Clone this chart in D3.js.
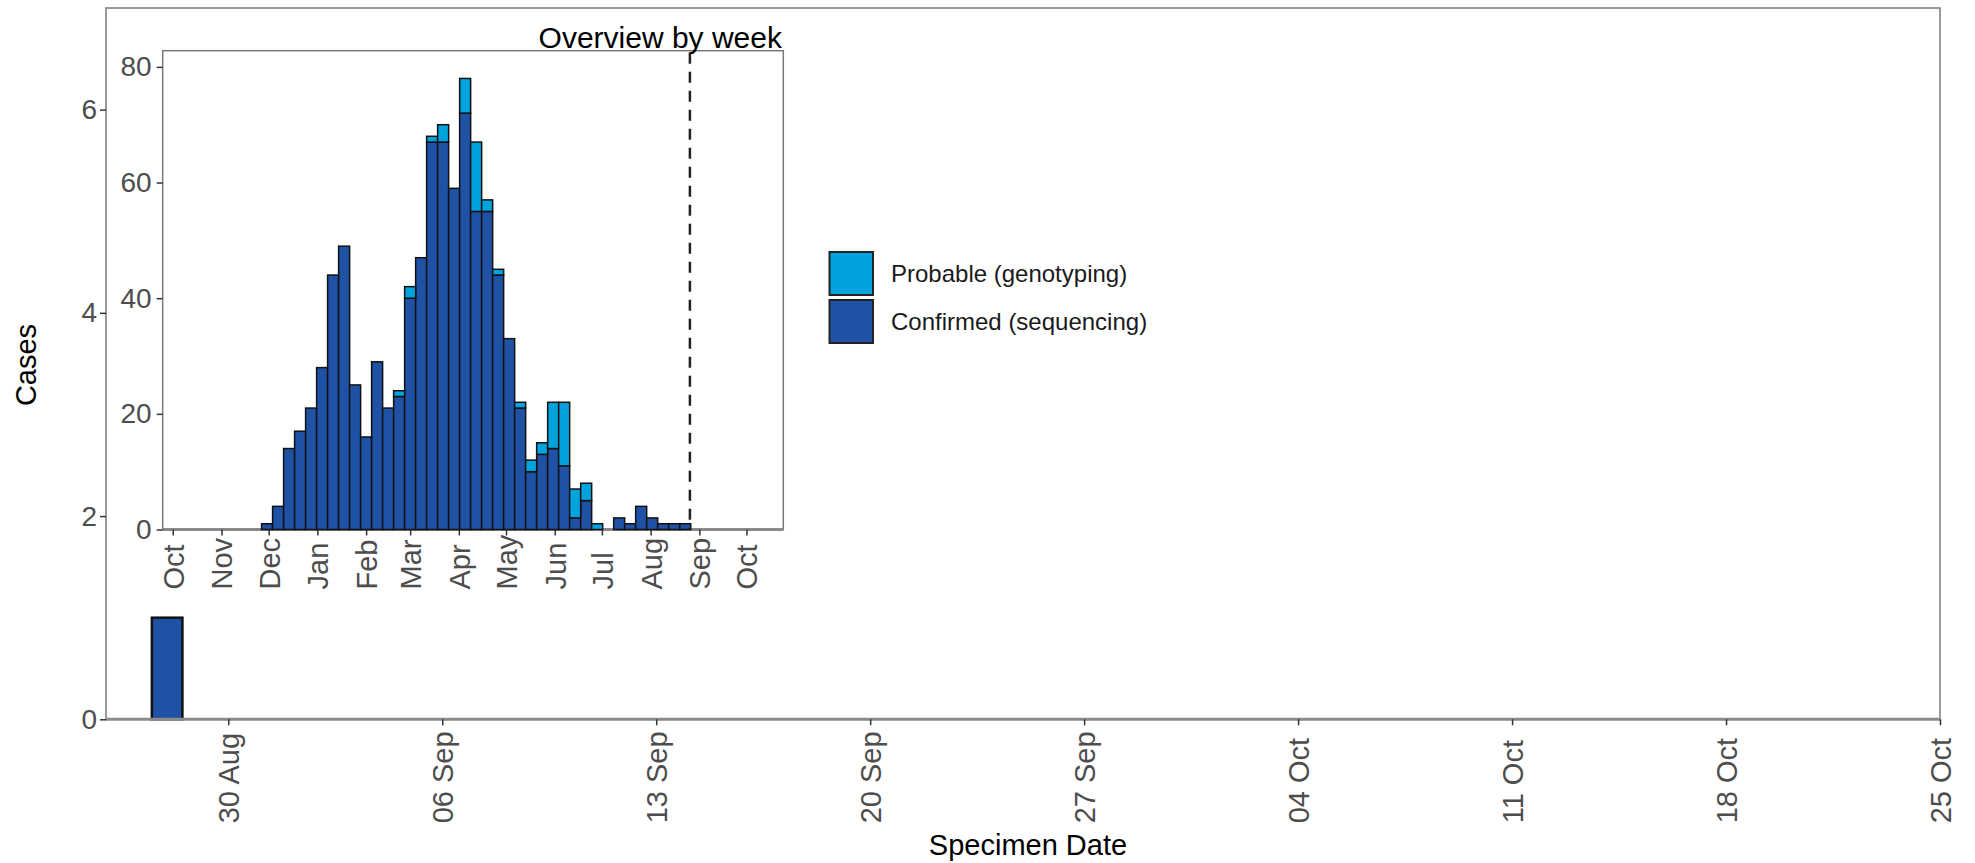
<!DOCTYPE html>
<html>
<head>
<meta charset="utf-8">
<script src="https://cdn.jsdelivr.net/npm/d3@7"></script>
<style>
  body { margin: 0; background: #fff; }
  svg text { font-family: "Liberation Sans", Arial, sans-serif; }
</style>
</head>
<body>
<div id="chart"></div>
<script>
// Daily counts (main panel)
const dailyDates = ["2021-08-28"];
const dailyConfirmed = [1];
const dailyProbable = [0];
const dailyTicks = ["2021-08-30", "2021-09-06", "2021-09-13", "2021-09-20", "2021-09-27",
  "2021-10-04", "2021-10-11", "2021-10-18", "2021-10-25"];
const dailyYTicks = [0, 2, 4, 6];

// Weekly counts (inset "Overview by week")
const weekStarts = [
  "2020-11-30", "2020-12-07", "2020-12-14", "2020-12-21", "2020-12-28",
  "2021-01-04", "2021-01-11", "2021-01-18", "2021-01-25", "2021-02-01",
  "2021-02-08", "2021-02-15", "2021-02-22", "2021-03-01", "2021-03-08",
  "2021-03-15", "2021-03-22", "2021-03-29", "2021-04-05", "2021-04-12",
  "2021-04-19", "2021-04-26", "2021-05-03", "2021-05-10", "2021-05-17",
  "2021-05-24", "2021-05-31", "2021-06-07", "2021-06-14", "2021-06-21",
  "2021-06-28", "2021-07-05", "2021-07-12", "2021-07-19", "2021-07-26",
  "2021-08-02", "2021-08-09", "2021-08-16", "2021-08-23"];
const weeklyConfirmed = [1, 4, 14, 17, 21, 28, 44, 49, 25, 16, 29, 21, 23, 40, 47,
  67, 67, 59, 72, 55, 55, 44, 33, 21, 10, 13, 14, 11, 2, 5, 0, 0, 2, 1, 4, 2, 1, 1, 1];
const weeklyProbable = [0, 0, 0, 0, 0, 0, 0, 0, 0, 0, 0, 0, 1, 2, 0,
  1, 3, 0, 6, 12, 2, 1, 0, 1, 2, 2, 8, 11, 5, 3, 1, 0, 0, 0, 0, 0, 0, 0, 0];
const monthTicks = ["2020-10-01", "2020-11-01", "2020-12-01", "2021-01-01", "2021-02-01",
  "2021-03-01", "2021-04-01", "2021-05-01", "2021-06-01", "2021-07-01", "2021-08-01",
  "2021-09-01", "2021-10-01"];
const weeklyYTicks = [0, 20, 40, 60, 80];
const cutoffDate = "2021-08-26";

const seriesNames = ["Probable (genotyping)", "Confirmed (sequencing)"];
const seriesColors = ["#00a3de", "#1f52a5"];

const parse = d3.utcParse("%Y-%m-%d");
const width = 1975;
const height = 863;

const svg = d3.select("#chart").append("svg")
  .attr("width", width)
  .attr("height", height);

// Build stacked segments: confirmed at the bottom, probable on top
const stackRows = (dates, confirmed, probable) => {
  const rows = dates.map((d, i) => ({ date: parse(d), confirmed: confirmed[i], probable: probable[i] }));
  const stacked = d3.stack().keys(["confirmed", "probable"])(rows);
  const segs = [];
  stacked.forEach((layer) => {
    layer.forEach((s) => {
      if (s[1] > s[0]) segs.push({ key: layer.key, date: s.data.date, y0: s[0], y1: s[1] });
    });
  });
  return segs;
};
const colorOf = (key) => (key === "confirmed" ? seriesColors[1] : seriesColors[0]);

const styleAxis = (g, size) => {
  g.select(".domain").remove();
  g.selectAll(".tick line").attr("stroke", "#333").attr("stroke-width", 1.5);
  g.selectAll(".tick text")
    .attr("fill", "#4d4d4d")
    .style("font-size", size + "px");
};

// ---------- main panel ----------
const main = { left: 106, right: 1940, top: 8, bottom: 719.3 };

const x = d3.scaleUtc()
  .domain([parse("2021-08-26"), parse("2021-10-25")])
  .range([main.left, main.right]);
const y = d3.scaleLinear().domain([0, 7]).range([main.bottom, main.top]);

svg.append("rect")
  .attr("x", main.left).attr("y", main.top)
  .attr("width", main.right - main.left).attr("height", main.bottom - main.top)
  .attr("fill", "none").attr("stroke", "#7a7a7a").attr("stroke-width", 1.5);

svg.append("g")
  .selectAll("rect")
  .data(stackRows(dailyDates, dailyConfirmed, dailyProbable))
  .join("rect")
  .attr("x", (d) => x(d3.utcHour.offset(d.date, -12)))
  .attr("width", (d) => x(d3.utcHour.offset(d.date, 12)) - x(d3.utcHour.offset(d.date, -12)))
  .attr("y", (d) => y(d.y1))
  .attr("height", (d) => y(d.y0) - y(d.y1))
  .attr("fill", (d) => colorOf(d.key))
  .attr("stroke", "#111")
  .attr("stroke-width", 2.5);

svg.append("line")
  .attr("x1", main.left).attr("x2", main.right)
  .attr("y1", main.bottom).attr("y2", main.bottom)
  .attr("stroke", "#8a8a8a").attr("stroke-width", 3);

const xAxis = svg.append("g")
  .attr("transform", `translate(0, ${main.bottom})`)
  .call(d3.axisBottom(x)
    .tickValues(dailyTicks.map(parse))
    .tickFormat(d3.utcFormat("%d %b"))
    .tickSize(6));
styleAxis(xAxis, 29);
xAxis.selectAll(".tick text")
  .attr("transform", "rotate(-90)")
  .attr("text-anchor", "start")
  .attr("x", -104)
  .attr("y", 0)
  .attr("dy", "0.36em");

const yAxis = svg.append("g")
  .attr("transform", `translate(${main.left}, 0)`)
  .call(d3.axisLeft(y).tickValues(dailyYTicks).tickFormat(d3.format("d")).tickSize(6).tickPadding(3));
styleAxis(yAxis, 28);

svg.append("text")
  .attr("transform", "translate(36, 365) rotate(-90)")
  .attr("text-anchor", "middle")
  .style("font-size", "29px")
  .attr("fill", "#000")
  .text("Cases");

svg.append("text")
  .attr("x", 1028).attr("y", 855)
  .attr("text-anchor", "middle")
  .style("font-size", "29px")
  .attr("fill", "#000")
  .text("Specimen Date");

// ---------- inset: overview by week ----------
const inset = { left: 162.7, right: 783.3, top: 50.7, bottom: 529.5 };

const xi = d3.scaleUtc()
  .domain([new Date(Date.UTC(2020, 8, 24, 14)), new Date(Date.UTC(2021, 9, 24, 10))])
  .range([inset.left, inset.right]);
const yi = d3.scaleLinear().domain([0, 82.8]).range([inset.bottom, inset.top]);

svg.append("rect")
  .attr("x", inset.left).attr("y", inset.top)
  .attr("width", inset.right - inset.left).attr("height", inset.bottom - inset.top)
  .attr("fill", "#fff").attr("stroke", "#7a7a7a").attr("stroke-width", 1.5);

svg.append("line")
  .attr("x1", inset.left).attr("x2", inset.right)
  .attr("y1", inset.bottom).attr("y2", inset.bottom)
  .attr("stroke", "#8a8a8a").attr("stroke-width", 3);

svg.append("g")
  .selectAll("rect")
  .data(stackRows(weekStarts, weeklyConfirmed, weeklyProbable))
  .join("rect")
  .attr("x", (d) => xi(d3.utcHour.offset(d.date, -84)))
  .attr("width", (d) => xi(d3.utcHour.offset(d.date, 84)) - xi(d3.utcHour.offset(d.date, -84)))
  .attr("y", (d) => yi(d.y1))
  .attr("height", (d) => yi(d.y0) - yi(d.y1))
  .attr("fill", (d) => colorOf(d.key))
  .attr("stroke", "#111")
  .attr("stroke-width", 1.5);

svg.append("line")
  .attr("x1", xi(parse(cutoffDate))).attr("x2", xi(parse(cutoffDate)))
  .attr("y1", inset.top + 2).attr("y2", inset.bottom)
  .attr("stroke", "#222").attr("stroke-width", 2.5)
  .attr("stroke-dasharray", "11,8");

const xiAxis = svg.append("g")
  .attr("transform", `translate(0, ${inset.bottom})`)
  .call(d3.axisBottom(xi)
    .tickValues(monthTicks.map(parse))
    .tickFormat(d3.utcFormat("%b"))
    .tickSize(6));
styleAxis(xiAxis, 29);
xiAxis.selectAll(".tick text")
  .attr("transform", "rotate(-90)")
  .attr("text-anchor", "start")
  .attr("x", -60)
  .attr("y", 0)
  .attr("dy", "0.36em");

const yiAxis = svg.append("g")
  .attr("transform", `translate(${inset.left}, 0)`)
  .call(d3.axisLeft(yi).tickValues(weeklyYTicks).tickFormat(d3.format("d")).tickSize(6).tickPadding(5));
styleAxis(yiAxis, 28);

svg.append("text")
  .attr("x", 782).attr("y", 48)
  .attr("text-anchor", "end")
  .style("font-size", "30px")
  .attr("fill", "#000")
  .text("Overview by week");

// ---------- legend ----------
const legend = svg.append("g").attr("transform", "translate(829.5, 252)");
const legendItems = legend.selectAll("g")
  .data(seriesNames)
  .join("g")
  .attr("transform", (d, i) => `translate(0, ${i * 48})`);
legendItems.append("rect")
  .attr("width", 43.5).attr("height", 43)
  .attr("fill", (d, i) => seriesColors[i])
  .attr("stroke", "#222").attr("stroke-width", 2);
legendItems.append("text")
  .attr("x", 61.5).attr("y", 30)
  .style("font-size", "24px")
  .attr("fill", "#1a1a1a")
  .text((d) => d);
</script>
</body>
</html>
